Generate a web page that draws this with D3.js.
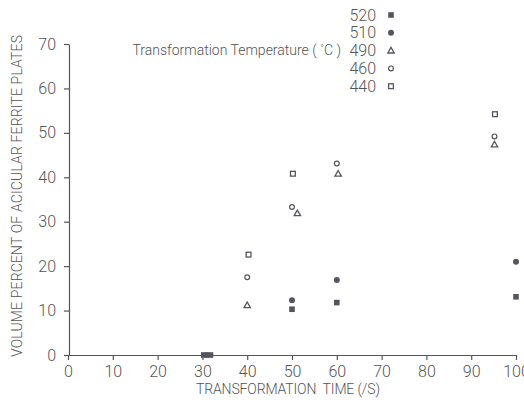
<!DOCTYPE html>
<html>
<head>
<meta charset="utf-8">
<script src="https://cdn.jsdelivr.net/npm/d3@7"></script>
<style>
  body { margin: 0; background: #fff; }
  text { font-family: Roboto, "DejaVu Sans", sans-serif; font-weight: 300; fill: #555; white-space: pre; }
</style>
</head>
<body>
<svg id="chart" width="524" height="400"></svg>
<script>
// temperatures (legend order, top to bottom)
const temps = ['520', '510', '490', '460', '440']
const symbols = ['fsquare', 'fcircle', 'triangle', 'ocircle', 'osquare']

// transformation time (s) vs volume percent, per temperature
const s520 = [{x: 30.3, y: 0}, {x: 31.8, y: 0}, {x: 50, y: 10.3}, {x: 60, y: 11.8}, {x: 100, y: 13.1}]
const s510 = [{x: 31, y: 0}, {x: 50, y: 12.3}, {x: 60, y: 16.9}, {x: 100, y: 21}]
const s490 = [{x: 40, y: 11.2}, {x: 51.2, y: 31.9}, {x: 60.3, y: 40.8}, {x: 95.2, y: 47.4}]
const s460 = [{x: 40, y: 17.5}, {x: 50, y: 33.3}, {x: 60, y: 43.1}, {x: 95.2, y: 49.2}]
const s440 = [{x: 40.3, y: 22.6}, {x: 50.2, y: 40.8}, {x: 95.3, y: 54.2}]
const series = [s520, s510, s490, s460, s440]

const xTicks = [0, 10, 20, 30, 40, 50, 60, 70, 80, 90, 100]
const yTicks = [0, 10, 20, 30, 40, 50, 60, 70]

const ink = '#55555f'
const svg = d3.select('#chart')

const xAxis = d3.scaleLinear().domain([0, 100]).range([68, 516])
const yAxis = d3.scaleLinear().domain([0, 70]).range([355, 44])

// axes
const gx = svg.append('g')
    .attr('transform', 'translate(0,355)')
    .call(d3.axisBottom(xAxis).tickValues(xTicks).tickSize(5).tickPadding(6).tickSizeOuter(0))
const gy = svg.append('g')
    .attr('transform', 'translate(69,0)')
    .call(d3.axisLeft(yAxis).tickValues(yTicks).tickSize(5).tickPadding(8).tickSizeOuter(0))

;[gx, gy].forEach(g => {
    g.select('.domain').attr('stroke', ink).attr('stroke-width', 1.2)
    g.selectAll('.tick line').attr('stroke', ink).attr('stroke-width', 1.2)
    g.selectAll('.tick text')
        .style('font-family', 'Roboto, sans-serif')
        .style('font-size', '16px').attr('fill', '#555')
})

// axis titles
svg.append('text')
    .attr('x', 288).attr('y', 394)
    .attr('text-anchor', 'middle')
    .attr('textLength', 184)
    .style('font-size', '14px')
    .text('TRANSFORMATION  TIME (/S)')

svg.append('text')
    .attr('transform', 'translate(22,196) rotate(-90)')
    .attr('text-anchor', 'middle')
    .attr('textLength', 322)
    .style('font-size', '14px')
    .text('VOLUME PERCENT OF ACICULAR FERRITE PLATES')

// draw one marker shape at (cx, cy)
const drawMark = (g, kind, cx, cy) => {
    if (kind == 'fsquare') {
        g.append('rect').attr('x', cx - 2.8).attr('y', cy - 2.8).attr('width', 5.6).attr('height', 5.6)
            .attr('fill', ink)
    } else if (kind == 'osquare') {
        g.append('rect').attr('x', cx - 2.4).attr('y', cy - 2.4).attr('width', 4.8).attr('height', 4.8)
            .attr('fill', 'none').attr('stroke', ink).attr('stroke-width', 1.3)
    } else if (kind == 'fcircle') {
        g.append('circle').attr('cx', cx).attr('cy', cy).attr('r', 3)
            .attr('fill', ink)
    } else if (kind == 'ocircle') {
        g.append('circle').attr('cx', cx).attr('cy', cy).attr('r', 2.4)
            .attr('fill', 'none').attr('stroke', ink).attr('stroke-width', 1.2)
    } else {
        g.append('path')
            .attr('d', `M${cx},${cy - 3.2}L${cx + 3.2},${cy + 2.4}L${cx - 3.2},${cy + 2.4}Z`)
            .attr('fill', 'none').attr('stroke', ink).attr('stroke-width', 1.3)
    }
}

// data points
const pts = svg.append('g')
series.forEach((data, i) => {
    data.forEach(d => drawMark(pts, symbols[i], xAxis(d.x), yAxis(d.y)))
})

// legend
const leg = svg.append('g')
temps.forEach((t, i) => {
    const ly = 15 + i * 17.8
    leg.append('text')
        .attr('x', 376).attr('y', ly + 5.5)
        .attr('text-anchor', 'end')
        .style('font-size', '16px')
        .text(t)
    drawMark(leg, symbols[i], 391, ly)
})
const title = leg.append('text')
    .attr('x', 341).attr('y', 55)
    .attr('text-anchor', 'end')
    .style('font-size', '14px')
title.append('tspan').text('Transformation Temperature ( ')
title.append('tspan').text('°').attr('dy', -3).style('font-size', '10px')
title.append('tspan').text('C )').attr('dy', 3)
</script>
</body>
</html>
